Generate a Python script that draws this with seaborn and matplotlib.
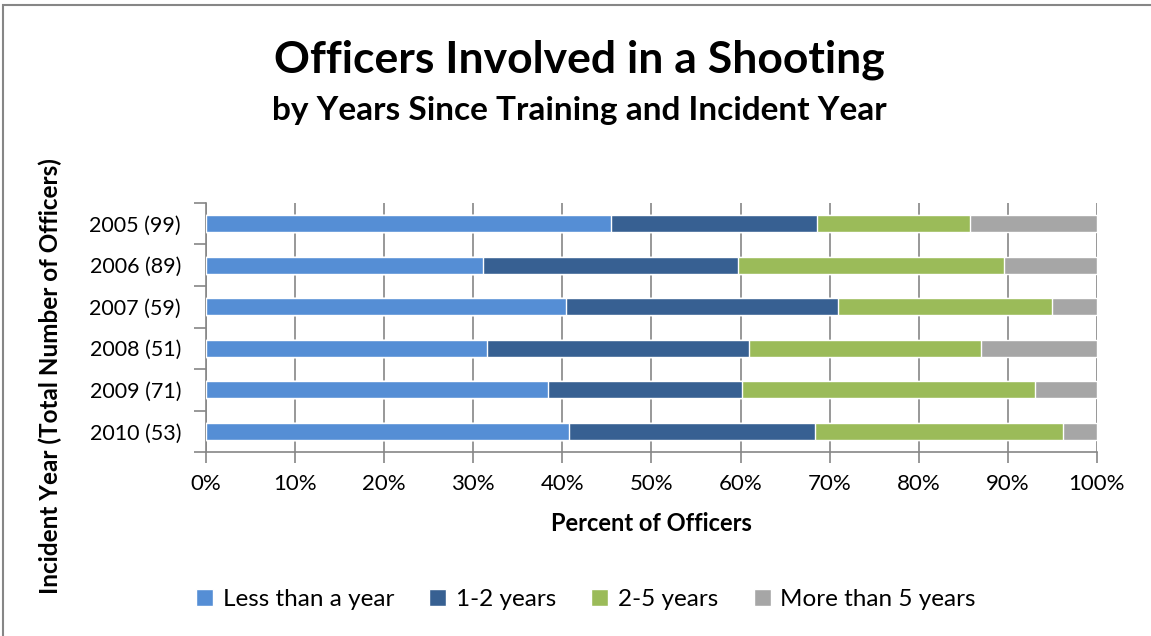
import pandas as pd
import seaborn as sns
import matplotlib.pyplot as plt
from matplotlib.patches import Patch

anos = ["2005 (99)", "2006 (89)", "2007 (59)", "2008 (51)", "2009 (71)", "2010 (53)"]
menos_1 = [45.5, 31.1, 40.4, 31.5, 38.4, 40.7]
de_1_2 = [23.1, 28.6, 30.5, 29.5, 21.8, 27.7]
de_2_5 = [17.2, 29.9, 24.1, 26.0, 32.9, 27.8]
mais_5 = [14.2, 10.4, 5.0, 13.0, 6.9, 3.8]

series = ["Less than a year", "1-2 years", "2-5 years", "More than 5 years"]
cores = ["#558ED5", "#376092", "#9BBB59", "#A6A6A6"]

tabela = pd.DataFrame({"ano": anos, series[0]: menos_1, series[1]: de_1_2,
                       series[2]: de_2_5, series[3]: mais_5})
acum = tabela[series].cumsum(axis=1)
acum["ano"] = tabela["ano"]

sns.set_style("white")
plt.rcParams["font.family"] = ["Lato", "DejaVu Sans"]
plt.rcParams["text.color"] = "black"
plt.rcParams["xtick.color"] = "black"
plt.rcParams["ytick.color"] = "black"
plt.rcParams["axes.labelcolor"] = "black"

fig = plt.figure(figsize=(11.51, 6.36), dpi=100)
ax = fig.add_axes([0.179, 0.289, 0.774, 0.392])

# empilhado: desenha do maior acumulado para o menor
for s, c in reversed(list(zip(series, cores))):
    sns.barplot(data=acum, x=s, y="ano", color=c, width=0.41, ax=ax,
                orient="h", saturation=1, zorder=3)

ax.set_xlim(0, 100)
ax.set_ylim(5.5, -0.5)
ax.set_xticks(range(0, 101, 10))
ax.set_xticklabels([f"{v}%" for v in range(0, 101, 10)], fontsize=16)
ax.set_yticks([i - 0.5 for i in range(7)], minor=False)
ax.set_yticklabels([])
ax.set_yticks(range(6), minor=True)
ax.set_yticklabels(anos, minor=True, fontsize=15.5)
ax.tick_params(axis="y", which="minor", length=0, pad=18)
ax.tick_params(axis="y", which="major", length=9, width=1.2, color="#868686", direction="out", left=True)
ax.tick_params(axis="x", length=8, width=1.2, color="#868686", direction="out", bottom=True, pad=8)
ax.grid(axis="x", color="#868686", linewidth=1.2, zorder=0)
ax.set_axisbelow(True)
for lado in ["top", "right"]:
    ax.spines[lado].set_visible(False)
for lado in ["left", "bottom"]:
    ax.spines[lado].set_color("#868686")
    ax.spines[lado].set_linewidth(1.2)

ax.set_xlabel("Percent of Officers", fontsize=17, fontweight="bold", labelpad=13)
ax.set_ylabel("")
fig.text(0.044, 0.409, "Incident Year (Total Number of Officers)", rotation=90,
         fontsize=17.5, fontweight="bold", ha="center", va="center")

fig.text(0.503, 0.906, "Officers Involved in a Shooting", fontsize=32,
         fontweight="bold", ha="center", va="center")
fig.text(0.503, 0.826, "by Years Since Training and Incident Year", fontsize=24,
         fontweight="bold", ha="center", va="center")

handles = [Patch(facecolor=c, label=s) for s, c in zip(series, cores)]
fig.legend(handles=handles, loc="center", bbox_to_anchor=(0.509, 0.057), ncol=4,
           frameon=False, fontsize=17.5, handlelength=0.7, handleheight=0.7,
           handletextpad=0.4, columnspacing=1.45)

# moldura do gráfico
fig.add_artist(plt.Rectangle((0.003, -0.05), 1.2, 1.042, transform=fig.transFigure,
                             fill=False, edgecolor="#868686", linewidth=1.5))

fig.savefig("out.png", dpi=100)
